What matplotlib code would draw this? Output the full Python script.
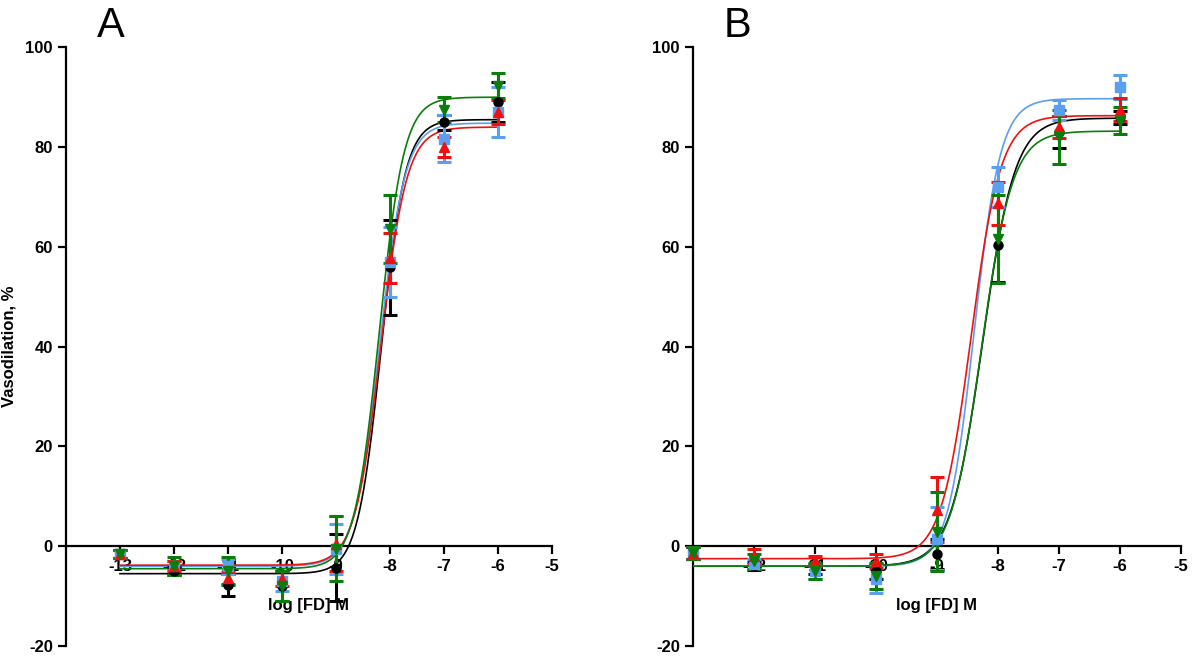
import numpy as np
import matplotlib
matplotlib.use("Agg")
import matplotlib.pyplot as plt

plt.rcParams['font.family'] = ['Liberation Sans', 'DejaVu Sans']
plt.rcParams['axes.unicode_minus'] = False

log_conc = [-13, -12, -11, -10, -9, -8, -7, -6]
series_names = ["black", "blue", "red", "green"]
colors = {"black": "#000000", "blue": "#5b9ff0", "red": "#ee1111", "green": "#0a7d0a"}
markers = {"black": "o", "blue": "s", "red": "^", "green": "v"}

# Panel A: means and SEM
a_mean = {
    "black": [-1.5, -5.0, -7.8, -8.0, -4.3, 55.9, 85.0, 89.0],
    "blue": [-1.5, -4.0, -4.0, -7.0, -0.5, 57.0, 81.7, 87.0],
    "red": [-1.5, -4.0, -6.3, -6.5, 0.5, 57.8, 80.0, 87.0],
    "green": [-1.5, -4.0, -5.0, -8.0, -0.5, 63.6, 87.5, 92.3],
}
a_err = {
    "black": [0.8, 0.8, 2.2, 3.0, 6.7, 9.5, 1.5, 4.0],
    "blue": [0.8, 1.0, 1.5, 2.0, 5.0, 7.0, 4.7, 5.0],
    "red": [0.8, 1.0, 1.2, 1.5, 5.5, 5.0, 2.0, 2.4],
    "green": [0.8, 1.8, 2.8, 3.0, 6.5, 6.8, 2.5, 2.5],
}
# Panel A: fitted curve parameters (bottom, top, logEC50, hill)
a_bottom = {"black": -5.5, "blue": -4.0, "red": -3.8, "green": -4.5}
a_top = {"black": 85.5, "blue": 84.8, "red": 84.0, "green": 90.0}
a_ec50 = {"black": -8.16, "blue": -8.19, "red": -8.17, "green": -8.20}
a_hill = {"black": 1.96, "blue": 1.85, "red": 1.81, "green": 1.89}

# Panel B: means and SEM
b_mean = {
    "black": [-1.3, -4.0, -4.5, -5.0, -1.5, 60.4, 83.0, 86.0],
    "blue": [-1.3, -3.5, -5.0, -6.5, 1.5, 72.0, 87.4, 92.0],
    "red": [-1.3, -2.0, -3.0, -3.0, 7.3, 68.7, 84.0, 87.5],
    "green": [-1.3, -3.0, -5.0, -6.0, 2.9, 61.6, 82.0, 85.3],
}
b_err = {
    "black": [1.2, 0.8, 1.0, 1.5, 3.0, 7.5, 3.2, 1.3],
    "blue": [1.2, 1.0, 1.5, 2.9, 6.3, 4.0, 2.0, 2.4],
    "red": [1.2, 1.5, 1.0, 1.4, 6.5, 4.3, 2.2, 2.3],
    "green": [1.2, 1.5, 1.6, 2.6, 7.9, 8.8, 5.4, 2.7],
}
b_bottom = {"black": -4.0, "blue": -4.0, "red": -2.5, "green": -4.0}
b_top = {"black": 85.8, "blue": 89.7, "red": 86.3, "green": 83.2}
b_ec50 = {"black": -8.25, "blue": -8.39, "red": -8.44, "green": -8.27}
b_hill = {"black": 1.64, "blue": 2.0, "red": 1.78, "green": 1.7}


def sigmoid(x, bottom, top, ec50, hill):
    return bottom + (top - bottom) / (1 + 10 ** ((ec50 - x) * hill))


def draw_panel(ax, means, errs, bottom, top, ec50, hill, xmin, xticks, letter):
    xs = np.linspace(-13, -6, 400)
    for name in series_names:
        c = colors[name]
        ax.plot(xs, sigmoid(xs, bottom[name], top[name], ec50[name], hill[name]),
                color=c, lw=1.2, zorder=3)
        ax.errorbar(log_conc, means[name], yerr=errs[name], fmt=markers[name],
                    color=c, ms=6.5, elinewidth=2.2, capsize=5, capthick=2.2,
                    zorder=4, clip_on=False)

    ax.set_xlim(xmin, -5)
    ax.set_ylim(-20, 100)
    ax.spines['top'].set_visible(False)
    ax.spines['right'].set_visible(False)
    ax.spines['bottom'].set_position(('data', 0))
    ax.spines['left'].set_linewidth(1.6)
    ax.spines['bottom'].set_linewidth(1.6)
    ax.set_xticks(xticks)
    ax.set_xticklabels([str(t) for t in xticks])
    ax.set_yticks([-20, 0, 20, 40, 60, 80, 100])
    ax.tick_params(axis='both', width=1.6, length=6, labelsize=12, direction='out')
    for lab in ax.get_xticklabels() + ax.get_yticklabels():
        lab.set_fontweight('bold')
    ax.text(0.5, 0.068, "log [FD] M", transform=ax.transAxes, ha='center', va='center',
            fontsize=12, fontweight='bold')
    ax.text(0.063, 1.035, letter, transform=ax.transAxes, ha='left', va='center', fontsize=30)


fig = plt.figure(figsize=(12, 6.66), dpi=100)
ax_a = fig.add_axes([0.055, 0.030, 0.405, 0.899])
ax_b = fig.add_axes([0.5775, 0.030, 0.4065, 0.899])

draw_panel(ax_a, a_mean, a_err, a_bottom, a_top, a_ec50, a_hill,
           -14, [-13, -12, -11, -10, -9, -8, -7, -6, -5], "A")
draw_panel(ax_b, b_mean, b_err, b_bottom, b_top, b_ec50, b_hill,
           -13, [-12, -11, -10, -9, -8, -7, -6, -5], "B")

ax_a.set_ylabel("Vasodilation, %", fontsize=12, fontweight='bold', labelpad=6)

fig.savefig("out.png", dpi=100)
